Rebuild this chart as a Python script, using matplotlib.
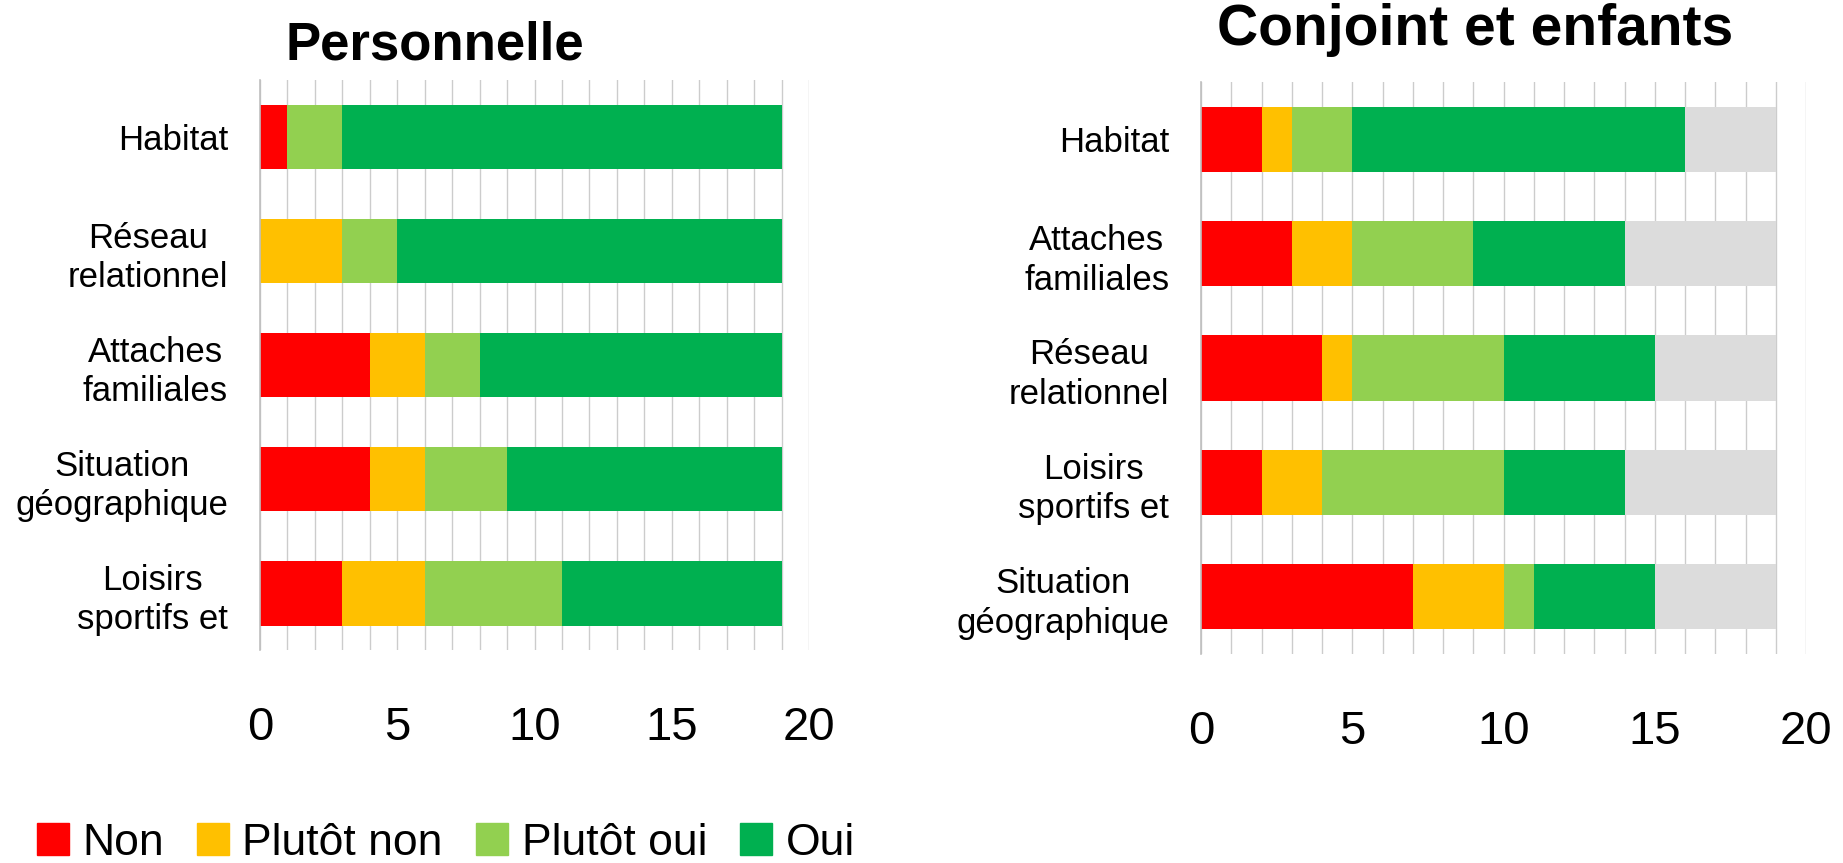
import numpy as np
import matplotlib
matplotlib.use('Agg')
import matplotlib.pyplot as plt
from matplotlib.patches import Patch

plt.rcParams['font.family'] = ['Liberation Sans Narrow', 'Liberation Sans', 'DejaVu Sans']

# Personnelle
left_cats = ['Habitat', 'Réseau\nrelationnel', 'Attaches\nfamiliales',
             'Situation\ngéographique', 'Loisirs\nsportifs et']
left_non = [1, 0, 4, 4, 3]
left_pnon = [0, 3, 2, 2, 3]
left_poui = [2, 2, 2, 3, 5]
left_oui = [16, 14, 11, 10, 8]

# Conjoint et enfants
right_cats = ['Habitat', 'Attaches\nfamiliales', 'Réseau\nrelationnel',
              'Loisirs\nsportifs et', 'Situation\ngéographique']
right_non = [2, 3, 4, 2, 7]
right_pnon = [1, 2, 1, 2, 3]
right_poui = [2, 4, 5, 6, 1]
right_oui = [11, 5, 5, 4, 4]
right_na = [3, 5, 4, 5, 4]

series_names = ['Non', 'Plutôt non', 'Plutôt oui', 'Oui']
colors = ['#FF0000', '#FFC000', '#92D050', '#00B050', '#DCDCDC']
xticks = [0, 5, 10, 15, 20]


def stacked(ax, cats, series):
    y = np.arange(len(cats))
    left = np.zeros(len(cats))
    for vals, c in zip(series, colors):
        ax.barh(y, vals, left=left, height=0.57, color=c, zorder=2)
        left = left + np.array(vals)
    ax.set_xlim(0, 20)
    ax.set_ylim(len(cats) - 0.5, -0.5)
    ax.set_yticks(y)
    ax.set_yticklabels(cats, fontsize=25, multialignment='center',
                       linespacing=1.25)
    ax.set_xticks(xticks)
    ax.set_xticklabels([str(t) for t in xticks], fontsize=34)
    ax.set_xticks(np.arange(0, 21), minor=True)
    ax.grid(axis='x', which='both', color='#cccccc', linewidth=1, zorder=0)
    ax.tick_params(axis='both', which='both', length=0)
    ax.tick_params(axis='y', pad=23)
    ax.tick_params(axis='x', pad=40)
    for s in ['top', 'right', 'bottom']:
        ax.spines[s].set_visible(False)
    ax.spines['left'].set_color('#bfbfbf')
    ax.spines['left'].set_linewidth(1.2)


fig = plt.figure(figsize=(18.43, 8.63), dpi=100)
ax1 = fig.add_axes([0.1411, 0.2468, 0.2979, 0.6605])
ax2 = fig.add_axes([0.6517, 0.2422, 0.3283, 0.6628])

stacked(ax1, left_cats, [left_non, left_pnon, left_poui, left_oui])
stacked(ax2, right_cats, [right_non, right_pnon, right_poui, right_oui, right_na])

fig.text(435 / 1843, 1 - 46 / 863, 'Personnelle', fontsize=38, fontweight='bold',
         ha='center', va='center')
fig.text(1475 / 1843, 1 - 30 / 863, 'Conjoint et enfants', fontsize=41,
         fontweight='bold', ha='center', va='center')

handles = [Patch(color=c) for c in colors[:4]]
fig.legend(handles, series_names, loc='center left', ncol=4,
           bbox_to_anchor=(0.02, 1 - 843 / 863), frameon=False, fontsize=32,
           handlelength=0.72, handleheight=0.72, handletextpad=0.3,
           columnspacing=0.75, borderpad=0, borderaxespad=0)

fig.savefig('out.png', dpi=100)
